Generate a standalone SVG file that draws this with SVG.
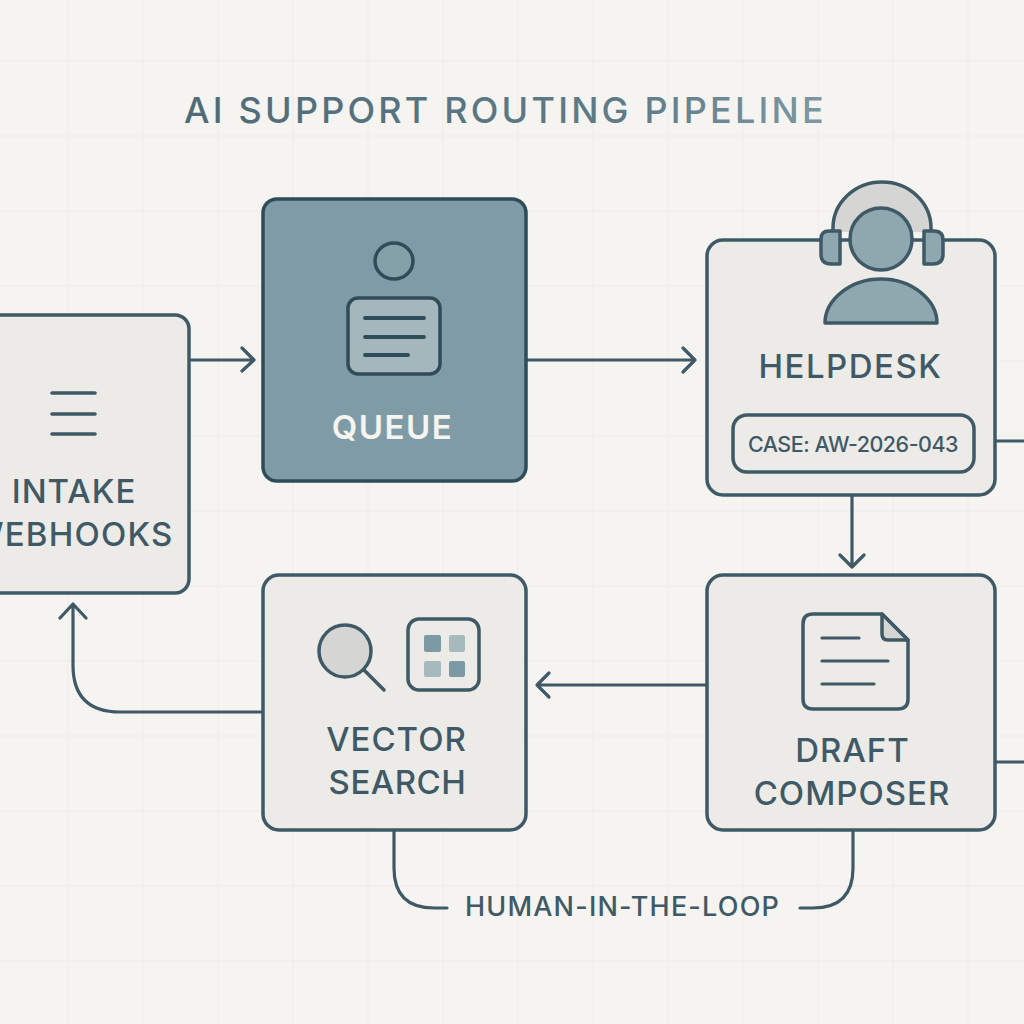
<svg xmlns="http://www.w3.org/2000/svg" width="1024" height="1024" viewBox="0 0 1024 1024">
<defs>
<style>
.node{fill:#ecebe7;stroke:#3f5a66;stroke-width:3.5}
.ln{fill:none;stroke:#3f5a66;stroke-width:3.2;stroke-linecap:round;stroke-linejoin:round}
.ic{stroke:#3f5a66;stroke-width:3.5;stroke-linejoin:round}
.t{font-family:"Inter","Liberation Sans",sans-serif;font-weight:500;fill:#3f5a66;text-anchor:middle}
.lab{font-size:33px;letter-spacing:1px}
.grid{stroke:#efeeea;stroke-width:1.5;fill:none}
</style>
<linearGradient id="tg" x1="0" x2="1" y1="0" y2="0"><stop offset="0" stop-color="#4f6b78"/><stop offset="0.7" stop-color="#5f7c88"/><stop offset="1" stop-color="#7b98a3"/></linearGradient>
</defs>
<rect width="1024" height="1024" fill="#f5f4f0"/>
<path class="grid" d="M68 0V1024M143 0V1024M218 0V1024M293 0V1024M368 0V1024M443 0V1024M518 0V1024M593 0V1024M668 0V1024M743 0V1024M818 0V1024M893 0V1024M968 0V1024M0 61H1024M0 136H1024M0 211H1024M0 286H1024M0 361H1024M0 436H1024M0 511H1024M0 586H1024M0 661H1024M0 736H1024M0 811H1024M0 886H1024M0 961H1024"/>
<text class="t" x="505.500" y="123" font-size="36" letter-spacing="3.2" style="fill:url(#tg)">AI SUPPORT ROUTING PIPELINE</text>
<g id="connectors">
<path class="ln" d="M189 360H254M242 348L254 360L242 371"/>
<path class="ln" d="M526 360H695M683 348L695 360L683 372"/>
<path class="ln" d="M995 441H1024"/>
<path class="ln" d="M852 495V567M840 555L852 567L864 555"/>
<path class="ln" d="M707 685H537M549 673L537 685L549 697"/>
<path class="ln" d="M995 762H1024"/>
<path class="ln" d="M263 712H120Q73 712 73 665V604M60 618L73 604L86 618"/>
<path class="ln" d="M394 830V868Q394 908 434 908H447"/>
<path class="ln" d="M853 830V868Q853 908 813 908H800"/>
</g>
<g id="intake">
<rect class="node" x="-40" y="315" width="229" height="278" rx="14"/>
<path class="ln" d="M52 393H95M52 414H95M52 434H95" style="stroke-width:3.6"/>
<text class="t lab" x="74" y="503">INTAKE</text>
<text class="t lab" x="72" y="546" style="letter-spacing:1.2px">WEBHOOKS</text>
</g>
<g id="queue">
<rect x="263" y="199" width="263" height="282" rx="14" fill="#7f9ca6" stroke="#2f4c59" stroke-width="3.5"/>
<ellipse class="ic" cx="394" cy="261" rx="19" ry="18" fill="#84a0a9" style="stroke:#2f4c59"/>
<rect class="ic" x="348" y="298" width="92" height="76" rx="10" fill="#a3b7bc" style="stroke:#2f4c59"/>
<path class="ln" d="M365 318H424M365 337H424M365 355H408" style="stroke:#2f4c59;stroke-width:3.8"/>
<text class="t lab" x="392.500" y="439" style="fill:#f5f4f0;font-weight:600;letter-spacing:1.5px">QUEUE</text>
</g>
<g id="helpdesk">
<rect class="node" x="707" y="240" width="288" height="255" rx="16"/>
<path d="M833 232V228A49 46 0 0 1 931 228V232Z" fill="#d5d6d4"/>
<path class="ln" d="M833 232V228A49 46 0 0 1 931 228V232" style="stroke-width:3.5"/>
<path class="ic" d="M840 231H829Q821 231 821 239V254Q821 264 831 264H840Z" fill="#8fa8b0"/>
<path class="ic" d="M924 231H934Q943 231 943 240V254Q943 264 933 264H924Z" fill="#8fa8b0"/>
<circle class="ic" cx="881" cy="239" r="31" fill="#8fa8b0"/>
<path class="ic" d="M825 323C825 300 850 279 881 279C912 279 937 300 937 323Z" fill="#8fa8b0"/>
<text class="t lab" x="850.500" y="378" style="letter-spacing:1.5px">HELPDESK</text>
<rect x="733" y="415" width="241" height="57" rx="14" fill="none" stroke="#3f5a66" stroke-width="3.5"/>
<text class="t" x="853" y="452" font-size="21.500" letter-spacing="-0.5">CASE: AW-2026-043</text>
</g>
<g id="draft">
<rect class="node" x="707" y="575" width="288" height="255" rx="16"/>
<path class="ic" d="M882 614H813Q803 614 803 624V699Q803 709 813 709H898Q908 709 908 699V640Z" fill="none"/>
<path class="ic" d="M882 614V634Q882 640 888 640H908Z" fill="#d5d6d4"/>
<path class="ln" d="M822 638H859M822 661H888M822 684H874"/>
<text class="t lab" x="852.500" y="762">DRAFT</text>
<text class="t lab" x="852" y="805">COMPOSER</text>
</g>
<g id="vector">
<rect class="node" x="263" y="575" width="263" height="255" rx="16"/>
<circle class="ic" cx="345" cy="651" r="26" fill="#d5d6d4"/>
<path class="ln" d="M364 670L384 690" style="stroke-width:3.5"/>
<rect x="408" y="619" width="71" height="71" rx="11" fill="none" stroke="#3f5a66" stroke-width="3.5"/>
<rect x="424" y="635" width="17" height="17" rx="2" fill="#7c9aa4"/>
<rect x="449" y="635" width="16" height="17" rx="2" fill="#a6b9bc"/>
<rect x="424" y="661" width="17" height="16" rx="2" fill="#a6b9bc"/>
<rect x="449" y="661" width="16" height="16" rx="2" fill="#7c9aa4"/>
<text class="t lab" x="396.500" y="751">VECTOR</text>
<text class="t lab" x="397.500" y="794" style="letter-spacing:.5px">SEARCH</text>
</g>
<text class="t" x="622.500" y="916" font-size="27" letter-spacing="1.2">HUMAN-IN-THE-LOOP</text>
</svg>
